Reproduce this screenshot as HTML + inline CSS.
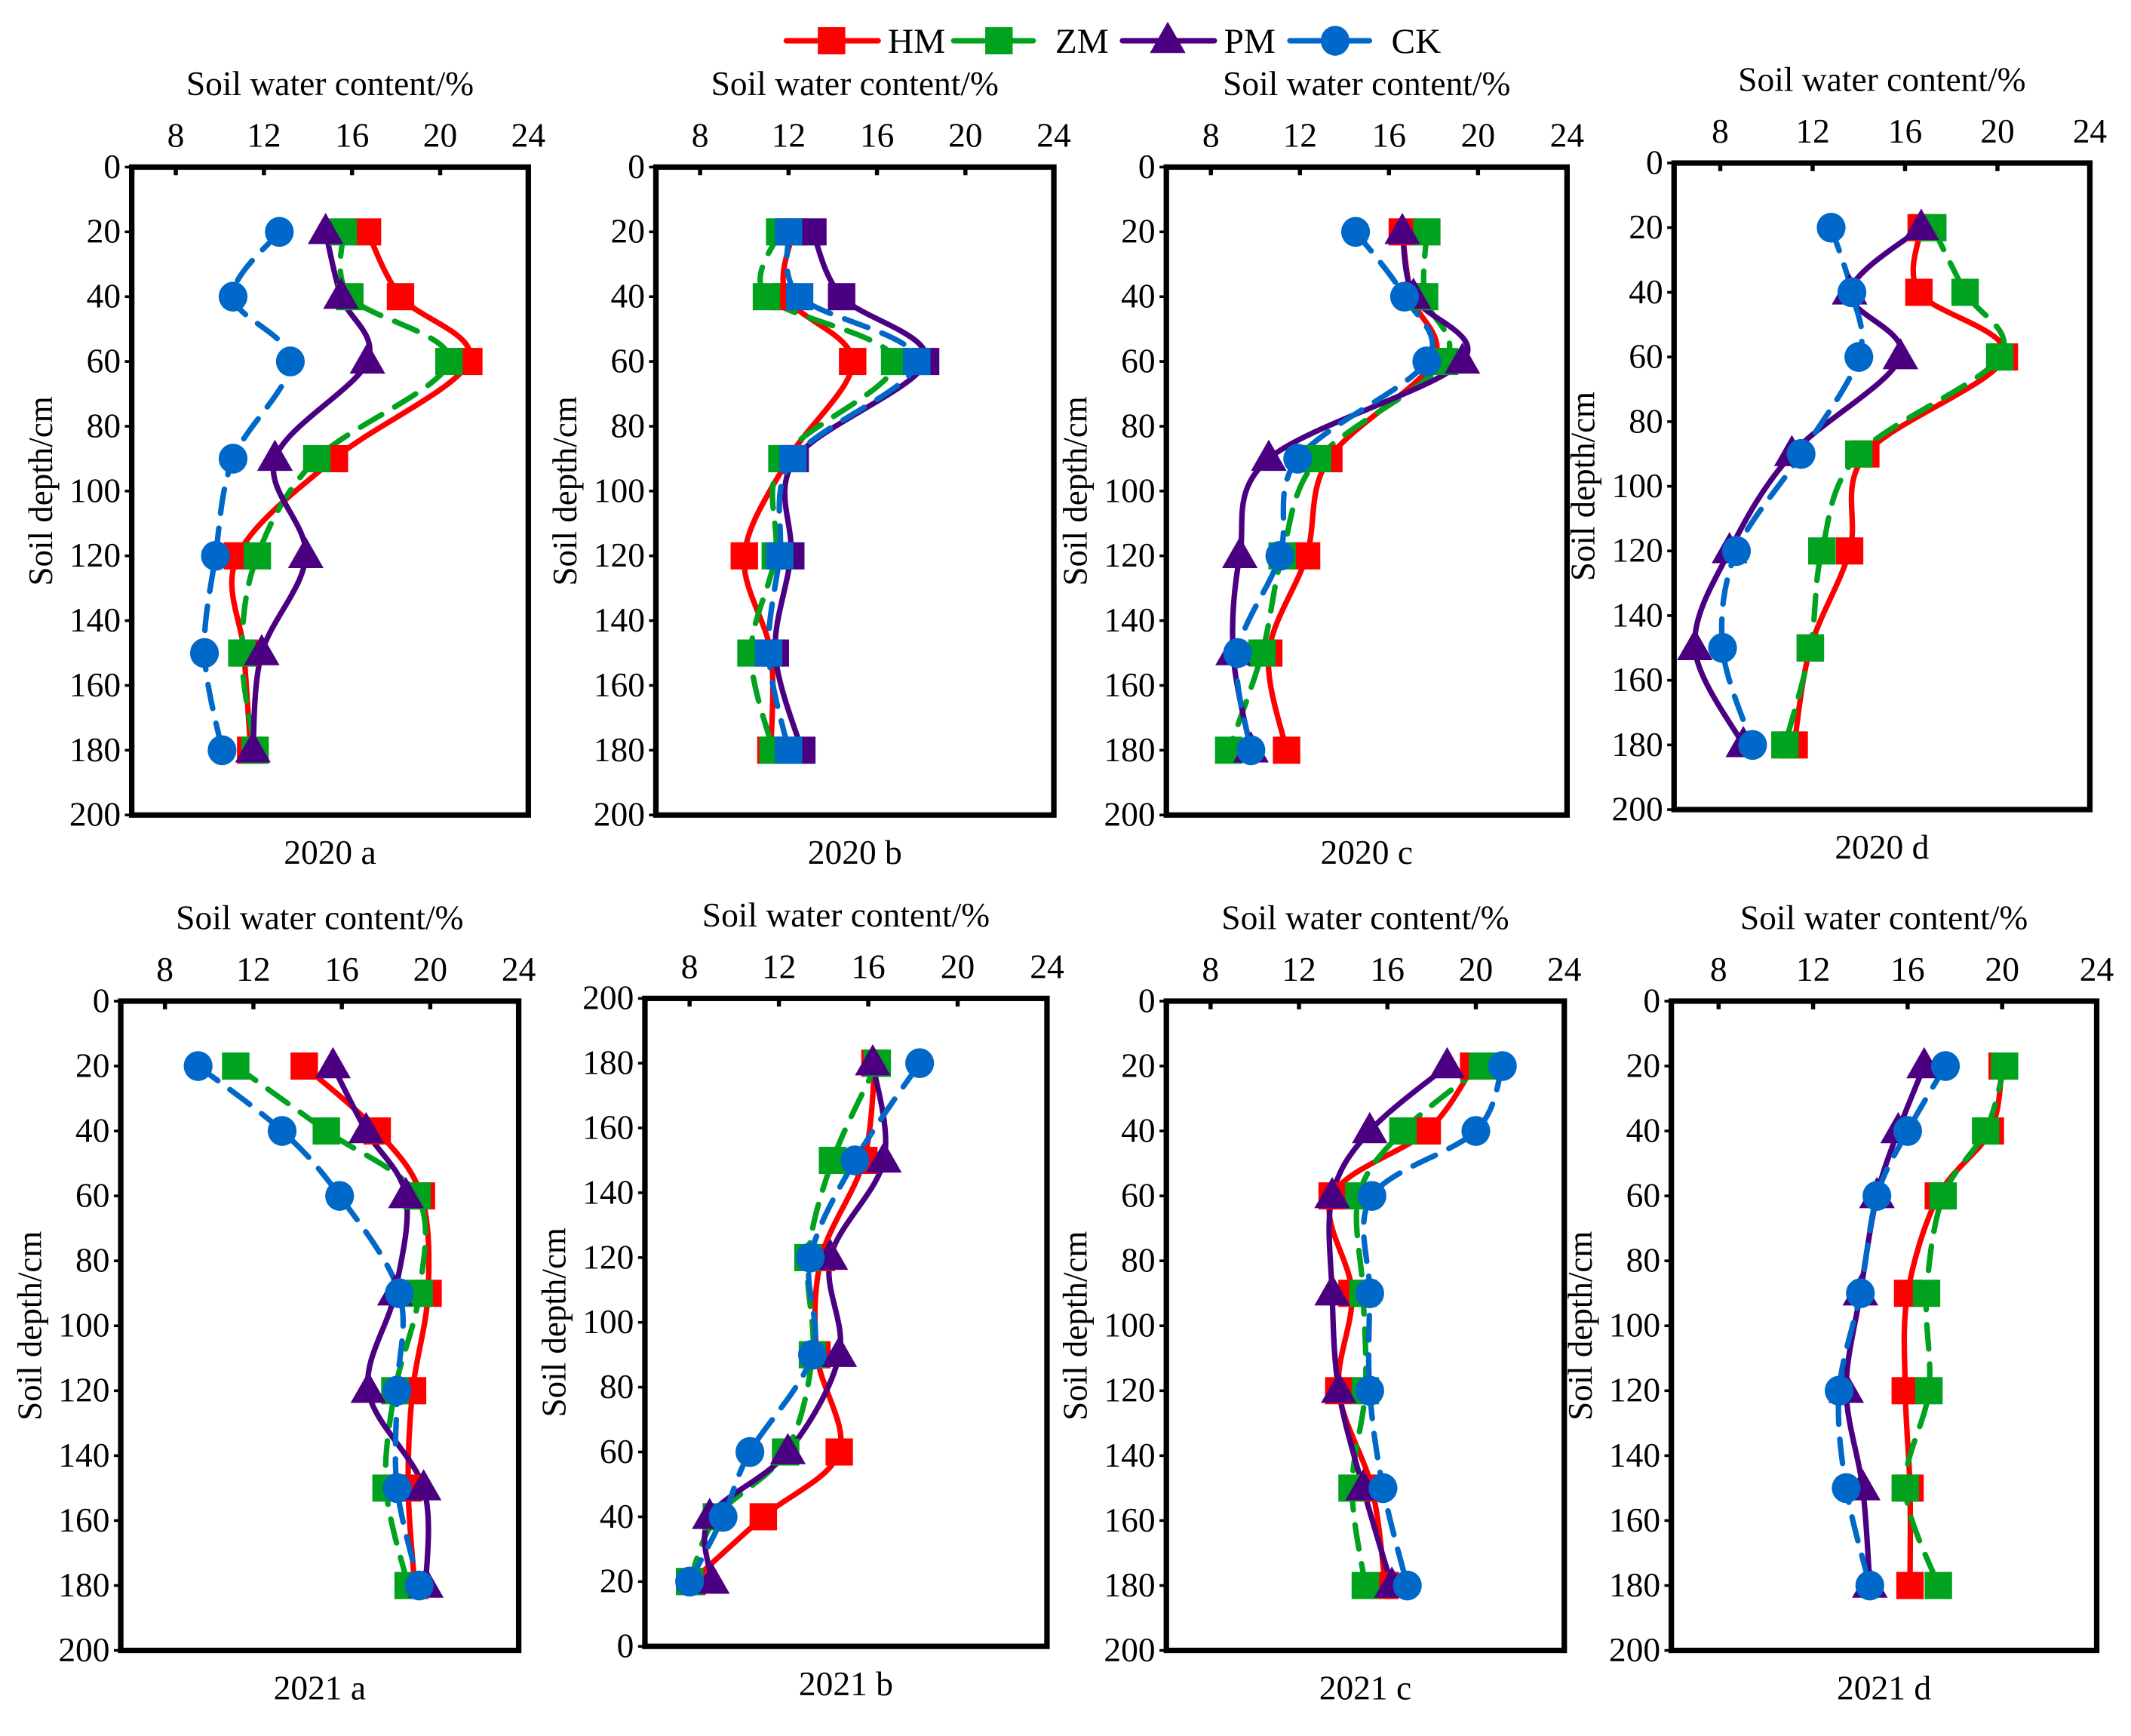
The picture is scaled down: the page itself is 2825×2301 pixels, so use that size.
<!DOCTYPE html>
<html><head><meta charset="utf-8"><style>
html,body{margin:0;padding:0;background:#fff;}
svg{display:block;font-family:"Liberation Serif","DejaVu Serif",serif;}
svg text{font-family:"Liberation Serif","DejaVu Serif",serif;fill:#000;}
</style></head><body>
<svg id="chart" width="2825" height="2301" viewBox="0 0 1553 1278" preserveAspectRatio="none" font-family="Liberation Serif, serif" xmlns="http://www.w3.org/2000/svg">
<g id="legend"></g>
<g id="panels"></g>
</svg>
<script>
const depths = [20, 40, 60, 90, 120, 150, 180];
const xTicks = [8, 12, 16, 20, 24];
const yTicks = [0, 20, 40, 60, 80, 100, 120, 140, 160, 180, 200];
const seriesNames = ["HM", "ZM", "PM", "CK"];
const panelLabels = ["2020 a", "2020 b", "2020 c", "2020 d", "2021 a", "2021 b", "2021 c", "2021 d"];
const hm2020a = [16.7, 18.2, 21.3, 15.2, 10.8, 11.1, 11.4];
const zm2020a = [15.6, 15.9, 20.4, 14.4, 11.7, 11.0, 11.6];
const pm2020a = [14.8, 15.5, 16.7, 12.5, 13.9, 11.9, 11.5];
const ck2020a = [12.7, 10.6, 13.2, 10.6, 9.8, 9.3, 10.1];
const hm2020b = [12.2, 11.9, 14.9, 12.0, 10.0, 11.2, 11.2];
const zm2020b = [11.6, 11.0, 16.8, 11.7, 11.4, 10.3, 11.3];
const pm2020b = [13.1, 14.4, 18.2, 12.3, 12.1, 11.4, 12.6];
const ck2020b = [12.0, 12.5, 17.8, 12.2, 11.6, 11.1, 12.0];
const hm2020c = [16.6, 17.0, 18.0, 13.3, 12.3, 10.6, 11.4];
const zm2020c = [17.7, 17.6, 18.5, 12.8, 11.2, 10.3, 8.8];
const pm2020c = [16.6, 17.1, 19.3, 10.6, 9.3, 9.0, 9.8];
const ck2020c = [14.5, 16.7, 17.7, 11.9, 11.1, 9.2, 9.8];
const hm2020d = [16.7, 16.6, 20.3, 14.3, 13.6, 11.9, 11.2];
const zm2020d = [17.2, 18.6, 20.1, 14.0, 12.4, 11.9, 10.8];
const pm2020d = [16.7, 13.6, 15.8, 11.1, 8.4, 6.9, 9.0];
const ck2020d = [12.8, 13.7, 14.0, 11.5, 8.7, 8.1, 9.4];
const hm2021a = [14.3, 17.6, 19.6, 19.9, 19.2, 19.0, 19.3];
const zm2021a = [11.2, 15.3, 19.4, 19.5, 18.4, 18.0, 19.0];
const pm2021a = [15.6, 17.1, 18.9, 18.4, 17.2, 19.7, 19.8];
const ck2021a = [9.5, 13.3, 15.9, 18.6, 18.5, 18.5, 19.5];
const hm2021b = [8.1, 11.3, 14.7, 13.7, 13.9, 15.8, 16.3];
const zm2021b = [8.0, 9.2, 12.3, 13.5, 13.3, 14.4, 16.4];
const pm2021b = [9.0, 8.9, 12.4, 14.7, 14.3, 16.7, 16.2];
const ck2021b = [8.0, 9.5, 10.7, 13.5, 13.4, 15.4, 18.3];
const hm2021c = [19.9, 17.8, 13.5, 14.4, 13.8, 15.3, 15.9];
const zm2021c = [20.3, 16.7, 14.7, 14.9, 15.0, 14.4, 15.0];
const pm2021c = [18.7, 15.2, 13.5, 13.5, 13.8, 14.9, 16.2];
const ck2021c = [21.2, 20.0, 15.3, 15.2, 15.2, 15.8, 16.9];
const hm2021d = [20.0, 19.5, 17.3, 16.0, 15.9, 16.1, 16.1];
const zm2021d = [20.1, 19.3, 17.5, 16.8, 16.9, 15.9, 17.3];
const pm2021d = [16.7, 15.6, 14.7, 14.0, 13.4, 14.1, 14.4];
const ck2021d = [17.6, 16.0, 14.7, 14.0, 13.1, 13.4, 14.4];

const panelData = [
  [hm2020a, zm2020a, pm2020a, ck2020a], [hm2020b, zm2020b, pm2020b, ck2020b],
  [hm2020c, zm2020c, pm2020c, ck2020c], [hm2020d, zm2020d, pm2020d, ck2020d],
  [hm2021a, zm2021a, pm2021a, ck2021a], [hm2021b, zm2021b, pm2021b, ck2021b],
  [hm2021c, zm2021c, pm2021c, ck2021c], [hm2021d, zm2021d, pm2021d, ck2021d]
];
const layout = [
  {x0:96,x1:385,y0:123,y1:600,rev:false,sq:false},
  {x0:478,x1:768,y0:123,y1:600,rev:false,sq:true},
  {x0:850,x1:1142,y0:123,y1:600,rev:false,sq:false},
  {x0:1220,x1:1523,y0:120,y1:596,rev:false,sq:false},
  {x0:88,x1:378,y0:737,y1:1215,rev:false,sq:false},
  {x0:470,x1:763,y0:735,y1:1212,rev:true,sq:false},
  {x0:850,x1:1140,y0:737,y1:1215,rev:false,sq:false},
  {x0:1218,x1:1528,y0:737,y1:1215,rev:false,sq:false}
];
const styles = [
  {c:"#ff0000", dash:null, m:"square"},
  {c:"#00a21e", dash:"18 11", m:"square"},
  {c:"#4b0082", dash:null, m:"triangle"},
  {c:"#0068c8", dash:"18 11", m:"circle"}
];
const NS = "http://www.w3.org/2000/svg";
const FONT = "Liberation Serif, serif";
function mk(tag, attrs, parent){const e=document.createElementNS(NS,tag);for(const k in attrs)e.setAttribute(k,attrs[k]);if(tag==="text")e.setAttribute("font-family",FONT);parent.appendChild(e);return e;}
function smooth(pts){
  let d="M"+pts[0][0]+","+pts[0][1];
  for(let i=0;i<pts.length-1;i++){
    const p0=pts[i-1]||pts[i],p1=pts[i],p2=pts[i+1],p3=pts[i+2]||p2;
    const c1=[p1[0]+(p2[0]-p0[0])/6,p1[1]+(p2[1]-p0[1])/6];
    const c2=[p2[0]-(p3[0]-p1[0])/6,p2[1]-(p3[1]-p1[1])/6];
    d+=" C"+c1[0]+","+c1[1]+" "+c2[0]+","+c2[1]+" "+p2[0]+","+p2[1];
  }
  return d;
}
function marker(type,x,y,color,g){
  let e;
  if(type==="square") e=mk("rect",{x:x-10,y:y-10,width:20,height:20,fill:color},g);
  else if(type==="triangle") e=mk("polygon",{points:(x)+","+(y-14)+" "+(x+13)+","+(y+9)+" "+(x-13)+","+(y+9),fill:color},g);
  else e=mk("ellipse",{cx:x,cy:y,rx:10.5,ry:11,fill:color},g);
  return e;
}
const panels=document.getElementById("panels");
layout.forEach((L,pi)=>{
  const g=mk("g",{},panels);
  
  
  const xs=v=>L.x0+(v-6)/18*(L.x1-L.x0);
  const ys=d=>L.rev? L.y1-d/200*(L.y1-L.y0) : L.y0+d/200*(L.y1-L.y0);
  const cx=(L.x0+L.x1)/2;
  const t=mk("text",{x:cx,y:L.y0-53,"font-size":25,"text-anchor":"middle"},g);t.textContent="Soil water content/%";
  
  
  xTicks.forEach(v=>{
    const tl=mk("text",{x:xs(v),y:L.y0-15,"font-size":25,"text-anchor":"middle"},g);tl.textContent=v;
    
    
    mk("line",{x1:xs(v),x2:xs(v),y1:L.y0,y2:L.y0+6,stroke:"#000","stroke-width":3},g);
  });
  yTicks.forEach(v=>{
    const tl=mk("text",{x:L.x0-8,y:ys(v)+8,"font-size":25,"text-anchor":"end"},g);tl.textContent=v;
    
    
    mk("line",{x1:L.x0-5,x2:L.x0,y1:ys(v),y2:ys(v),stroke:"#000","stroke-width":2},g);
  });
  const yl=mk("text",{x:0,y:0,"font-size":25,"text-anchor":"middle",transform:"translate("+(L.x0-58)+","+((L.y0+L.y1)/2)+") rotate(-90)"},g);
  yl.textContent="Soil depth/cm";
  
  
  const bl=mk("text",{x:cx,y:L.y1+36,"font-size":25,"text-anchor":"middle"},g);bl.textContent=panelLabels[pi];
  
  
  panelData[pi].forEach((vals,si)=>{
    const pts=vals.map((v,i)=>[xs(v),ys(depths[i])]);
    const p=mk("path",{d:smooth(pts),fill:"none",stroke:styles[si].c,"stroke-width":4,"stroke-linecap":"round"},g);
    if(styles[si].dash)p.setAttribute("stroke-dasharray",styles[si].dash);
    
    
  });
  panelData[pi].forEach((vals,si)=>{
    vals.forEach((v,i)=>{
      const m=marker(L.sq?"square":styles[si].m,xs(v),ys(depths[i]),styles[si].c,g);
      
      
    });
  });
  const box=mk("rect",{x:L.x0,y:L.y0,width:L.x1-L.x0,height:L.y1-L.y0,fill:"none",stroke:"#000","stroke-width":4},g);
  
  
});
const lg=document.getElementById("legend");
const legX=[573,695,818,940];
seriesNames.forEach((n,i)=>{
  const g=mk("g",{},lg);
  
  
  const l=mk("line",{x1:legX[i],x2:legX[i]+67,y1:30,y2:30,stroke:styles[i].c,"stroke-width":4,"stroke-linecap":"round"},g);
  if(styles[i].dash)l.setAttribute("stroke-dasharray","22 14");
  marker(styles[i].m,legX[i]+33,30,styles[i].c,g);
  const t=mk("text",{x:legX[i]+74,y:39,"font-size":26},g);t.textContent=n;
});
</script>
</body></html>
